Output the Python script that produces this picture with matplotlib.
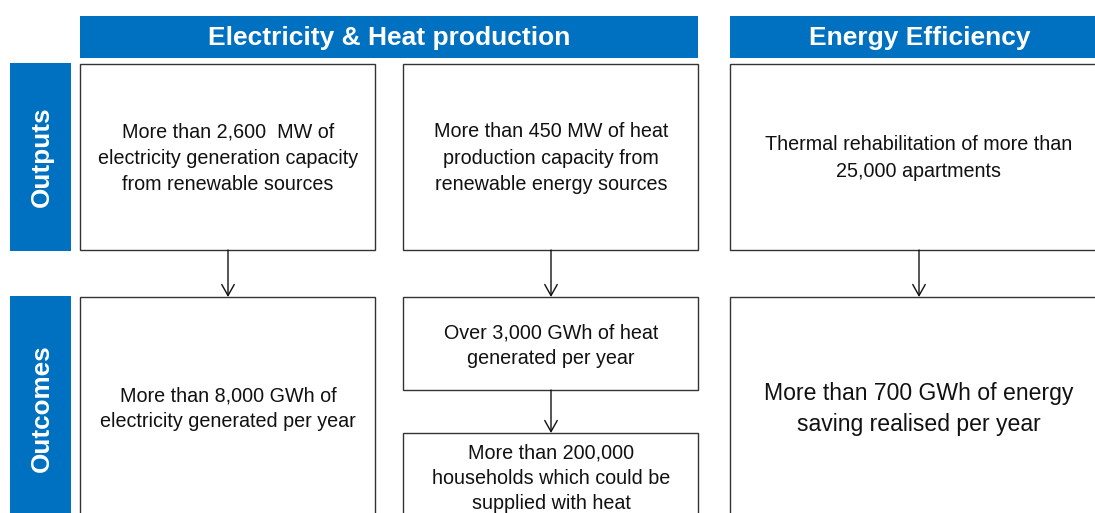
import matplotlib
matplotlib.use("Agg")
import matplotlib.pyplot as plt
from matplotlib.patches import Rectangle

plt.rcParams['font.family'] = ['Liberation Sans', 'DejaVu Sans']

BLUE = '#0070C0'

headers = ["Electricity & Heat production", "Energy Efficiency"]
row_labels = ["Outputs", "Outcomes"]
output_texts = [
    "More than 2,600  MW of\nelectricity generation capacity\nfrom renewable sources",
    "More than 450 MW of heat\nproduction capacity from\nrenewable energy sources",
    "Thermal rehabilitation of more than\n25,000 apartments",
]
outcome_texts = [
    "More than 8,000 GWh of\nelectricity generated per year",
    "Over 3,000 GWh of heat\ngenerated per year",
    "More than 200,000\nhouseholds which could be\nsupplied with heat",
    "More than 700 GWh of energy\nsaving realised per year",
]

W, H = 1095, 513
fig = plt.figure(figsize=(W / 100, H / 100), dpi=100)
ax = fig.add_axes([0, 0, 1, 1])
ax.set_xlim(0, W)
ax.set_ylim(H, 0)
ax.axis('off')

def rect(x0, y0, x1, y1, fc='white', ec='#333333', lw=1.0, z=1):
    ax.add_patch(Rectangle((x0, y0), x1 - x0, y1 - y0, facecolor=fc,
                           edgecolor=ec, linewidth=lw, zorder=z, clip_on=True))

# headers
hdr_boxes = [(80, 16, 698, 58), (730, 16, 1109, 58)]
for (x0, y0, x1, y1), t in zip(hdr_boxes, headers):
    rect(x0, y0, x1, y1, fc=BLUE, ec='none')
    ax.text((x0 + x1) / 2, (y0 + y1) / 2 + 1, t,
            color='white', fontsize=19, fontweight='bold',
            ha='center', va='center')

# row labels
side_boxes = [(10, 63, 71, 251), (10, 296, 71, 520)]
side_centers = [157, 408]
for (x0, y0, x1, y1), t, cy in zip(side_boxes, row_labels, side_centers):
    rect(x0, y0, x1, y1, fc=BLUE, ec='none')
    ax.text((x0 + x1) / 2 + 1, cy, t, color='white', fontsize=18.8,
            fontweight='bold', rotation=90, ha='center', va='center')

# output boxes
out_boxes = [(80, 64, 375, 250), (403, 64, 698, 250), (730, 64, 1108, 250)]
out_cx = [228, 551, 919]
out_cy = [158, 158, 158]
for (x0, y0, x1, y1), t, cx, cy in zip(out_boxes, output_texts, out_cx, out_cy):
    rect(x0, y0, x1, y1)
    ax.text(cx, cy, t, fontsize=14.2, ha='center', va='center',
            linespacing=1.5, color='#111111')

# outcome boxes
oc_boxes = [(80, 297, 375, 525), (403, 297, 698, 390),
            (403, 433, 698, 525), (730, 297, 1108, 525)]
oc_cx = [228, 551, 551, 919]
oc_cy = [409, 346, 478, 409]
oc_fs = [14.2, 14.2, 14.2, 16.6]
for (x0, y0, x1, y1), t, cx, cy, fs in zip(oc_boxes, outcome_texts, oc_cx, oc_cy, oc_fs):
    rect(x0, y0, x1, y1)
    ax.text(cx, cy, t, fontsize=fs, ha='center', va='center',
            linespacing=1.42, color='#111111')

# arrows
arrows = [(228, 250, 297), (551, 250, 297), (551, 390, 433), (919, 250, 297)]
for x, ya, yb in arrows:
    ax.annotate('', xy=(x, yb), xytext=(x, ya),
                arrowprops=dict(arrowstyle='->,head_length=0.8,head_width=0.45',
                                color='#111111', lw=1.0,
                                shrinkA=0, shrinkB=0))

fig.savefig('out.png', dpi=100)
